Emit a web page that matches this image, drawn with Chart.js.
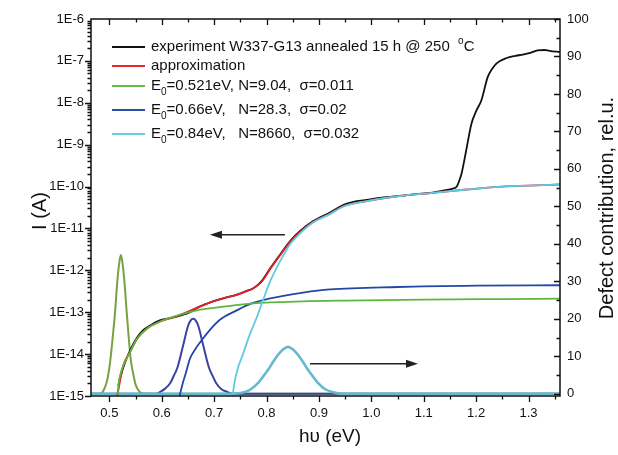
<!DOCTYPE html>
<html>
<head>
<meta charset="utf-8">
<script src="https://cdn.jsdelivr.net/npm/chart.js@4.4.0/dist/chart.umd.min.js"></script>
<style>
  html, body { margin: 0; padding: 0; background: #fff; }
  #wrap { width: 618px; height: 455px; }
</style>
</head>
<body>
<div id="wrap"><canvas id="chart" width="618" height="455"></canvas></div>
<script>
const FONT = '"Liberation Sans", Arial, sans-serif';

// axis ticks
const xTicks = [0.5, 0.6, 0.7, 0.8, 0.9, 1.0, 1.1, 1.2, 1.3];
const yLeftTicks = [1e-15, 1e-14, 1e-13, 1e-12, 1e-11, 1e-10, 1e-9, 1e-8, 1e-7, 1e-6];
const yRightTicks = [0, 10, 20, 30, 40, 50, 60, 70, 80, 90, 100];

// experiment W337-G13 (photon energy, eV / current, A)
const expE = [0.517, 0.522, 0.530, 0.540, 0.553, 0.565, 0.578, 0.591, 0.605, 0.620, 0.635, 0.645, 0.654, 0.670, 0.685, 0.698,
  0.720, 0.744, 0.760, 0.774, 0.785, 0.793, 0.807, 0.826, 0.845, 0.864, 0.889, 0.921, 0.946, 0.970, 0.991, 1.020,
  1.054, 1.085, 1.117, 1.140, 1.155, 1.163, 1.168, 1.172, 1.177, 1.182, 1.191, 1.200, 1.210, 1.222, 1.230, 1.239,
  1.258, 1.275, 1.289, 1.305, 1.317, 1.330, 1.340, 1.360];
const expI = [1.78e-15, 3.16e-15, 6.3e-15, 1.26e-14, 2.5e-14, 3.8e-14, 4.8e-14, 6.0e-14, 6.8e-14, 7.4e-14, 8.3e-14, 9.1e-14, 1.0e-13, 1.32e-13, 1.58e-13, 1.82e-13,
  2.19e-13, 2.63e-13, 3.16e-13, 3.7e-13, 4.7e-13, 6.0e-13, 1.12e-12, 2.4e-12, 5.0e-12, 8.7e-12, 1.51e-11, 2.4e-11, 3.6e-11, 4.4e-11, 4.8e-11, 5.4e-11,
  6.0e-11, 6.6e-11, 7.2e-11, 8.1e-11, 8.9e-11, 1.0e-10, 1.41e-10, 2.0e-10, 4.0e-10, 8.5e-10, 3.16e-9, 6.3e-9, 1.15e-8, 4.1e-8, 6.3e-8, 8.7e-8,
  1.17e-7, 1.32e-7, 1.41e-7, 1.58e-7, 1.78e-7, 1.82e-7, 1.74e-7, 1.62e-7];

// approximation
const apxE = [0.515, 0.527, 0.540, 0.553, 0.572, 0.597, 0.620, 0.641, 0.660, 0.680, 0.698, 0.720, 0.744, 0.760, 0.774, 0.785,
  0.793, 0.807, 0.826, 0.845, 0.864, 0.889, 0.921, 0.946, 0.991, 1.054, 1.117, 1.182, 1.250, 1.300, 1.360];
const apxI = [1.0e-15, 5.5e-15, 1.15e-14, 2.34e-14, 4.1e-14, 6.0e-14, 7.4e-14, 9.3e-14, 1.17e-13, 1.48e-13, 1.82e-13, 2.19e-13, 2.63e-13, 3.1e-13, 3.7e-13, 4.6e-13,
  5.8e-13, 1.07e-12, 2.3e-12, 4.8e-12, 8.3e-12, 1.45e-11, 2.24e-11, 3.4e-11, 4.5e-11, 5.9e-11, 7.1e-11, 8.5e-11, 1.0e-10, 1.05e-10, 1.12e-10];

// level E0 = 0.521 eV
const g1E = [0.515, 0.519, 0.523, 0.527, 0.533, 0.540, 0.553, 0.572, 0.597, 0.635, 0.673, 0.711, 0.774, 0.870, 0.950, 1.100, 1.250, 1.360];
const g1I = [1.0e-15, 2.5e-15, 4.0e-15, 5.5e-15, 7.9e-15, 1.15e-14, 2.34e-14, 4.1e-14, 6.0e-14, 8.7e-14, 1.15e-13, 1.32e-13, 1.62e-13, 1.82e-13, 1.9e-13, 2.0e-13, 2.06e-13, 2.1e-13];
const g1ContE = [0.465, 0.483, 0.490, 0.496, 0.501, 0.506, 0.511, 0.515, 0.519, 0.522, 0.525, 0.529, 0.533, 0.537, 0.541, 0.546, 0.550, 0.555, 0.565, 1.360];
const g1Cont = [0, 0, 1.2, 3.7, 8, 14.4, 22, 29.6, 35, 37, 35, 29.6, 22, 15, 9, 5, 2.5, 1, 0, 0];

// level E0 = 0.66 eV
const b1E = [0.634, 0.640, 0.645, 0.654, 0.663, 0.673, 0.692, 0.711, 0.744, 0.769, 0.807, 0.870, 0.921, 1.050, 1.200, 1.360];
const b1I = [1.0e-15, 2.0e-15, 3.2e-15, 7.9e-15, 1.26e-14, 1.9e-14, 3.8e-14, 6.6e-14, 1.12e-13, 1.58e-13, 2.14e-13, 2.95e-13, 3.5e-13, 4.0e-13, 4.3e-13, 4.4e-13];
const b1ContE = [0.465, 0.590, 0.597, 0.606, 0.616, 0.623, 0.630, 0.641, 0.650, 0.655, 0.660, 0.665, 0.670, 0.679, 0.690, 0.697, 0.704, 0.714, 0.725, 0.735, 1.360];
const b1Cont = [0, 0, 0.5, 1.3, 2.8, 4.8, 7.0, 13.0, 18, 19.5, 20, 19.5, 18, 13.0, 7.0, 4.8, 2.8, 1.2, 0.5, 0, 0];

// level E0 = 0.84 eV
const c1E = [0.735, 0.740, 0.745, 0.755, 0.769, 0.782, 0.793, 0.807, 0.826, 0.845, 0.864, 0.889, 0.921, 0.946, 0.991, 1.054, 1.117, 1.182, 1.250, 1.300, 1.360];
const c1I = [1.0e-15, 2.5e-15, 4.5e-15, 1.0e-14, 3.16e-14, 7.9e-14, 1.9e-13, 5.5e-13, 1.66e-12, 4.2e-12, 7.6e-12, 1.38e-11, 2.2e-11, 3.3e-11, 4.5e-11, 5.9e-11, 7.1e-11, 8.5e-11, 1.0e-10, 1.05e-10, 1.12e-10];
const c1ContE = [0.465, 0.735, 0.750, 0.759, 0.770, 0.784, 0.795, 0.803, 0.813, 0.822, 0.832, 0.841, 0.850, 0.860, 0.869, 0.879, 0.887, 0.898, 0.912, 0.925, 0.945, 1.360];
const c1Cont = [0, 0, 0.2, 0.5, 1.2, 2.9, 4.9, 6.4, 8.6, 10.4, 11.9, 12.5, 11.9, 10.4, 8.6, 6.4, 4.9, 2.9, 1.2, 0.5, 0, 0];

const legendLabels = [
  [{ t: 'experiment W337-G13 annealed 15 h @ 250  ' }, { t: 'o', sup: true }, { t: 'C' }],
  [{ t: 'approximation' }],
  [{ t: 'E' }, { t: '0', sub: true }, { t: '=0.521eV, N=9.04,  \u03c3=0.011' }],
  [{ t: 'E' }, { t: '0', sub: true }, { t: '=0.66eV,   N=28.3,  \u03c3=0.02' }],
  [{ t: 'E' }, { t: '0', sub: true }, { t: '=0.84eV,   N=8660,  \u03c3=0.032' }]
];
const legendColors = ['#111111', '#e8262b', '#66bb44', '#2a4ea6', '#6dcde0'];
const legendY = [47, 66, 86, 110, 134];

// direction arrows: which axis each curve family belongs to
const arrows = [
  { axis: 'y', from: 0.835, to: 0.692, level: 7.1e-12 },
  { axis: 'y2', from: 0.883, to: 1.089, level: 8 }
];

const line = (label, xs, ys, color, axis, order, width) => ({
  label,
  data: xs.map((x, i) => ({ x: x, y: ys[i] })),
  borderColor: color,
  backgroundColor: color,
  borderWidth: width || 1.8,
  yAxisID: axis,
  order: order,
  pointRadius: 0,
  fill: false,
  cubicInterpolationMode: 'monotone'
});

const decoration = {
  id: 'decoration',
  afterDraw(chart) {
    const ctx = chart.ctx;
    const a = chart.chartArea;
    const sx = chart.scales.x, sy = chart.scales.y, sr = chart.scales.y2;
    ctx.save();
    ctx.strokeStyle = '#111';
    ctx.lineWidth = 1.3;
    ctx.beginPath();
    // bottom (out) and top (in) ticks
    for (let v = 0.5; v <= 1.36; v += 0.05) {
      const major = Math.abs(v * 10 - Math.round(v * 10)) < 1e-6;
      const px = Math.round(sx.getPixelForValue(v)) + 0.5;
      const len = major ? 6 : 3.5;
      ctx.moveTo(px, a.bottom); ctx.lineTo(px, a.bottom + len);
      ctx.moveTo(px, a.top); ctx.lineTo(px, a.top + len);
    }
    // left log ticks (out)
    for (let e = -15; e < -6; e++) {
      for (let k = 1; k <= 9; k++) {
        const py = Math.round(sy.getPixelForValue(k * Math.pow(10, e))) + 0.5;
        const len = k === 1 ? 6 : 3.5;
        ctx.moveTo(a.left, py); ctx.lineTo(a.left - len, py);
      }
    }
    // right linear ticks (in)
    for (let v = 0; v <= 100; v += 5) {
      const py = Math.round(sr.getPixelForValue(v)) + 0.5;
      const len = v % 10 === 0 ? 6 : 3.5;
      ctx.moveTo(a.right, py); ctx.lineTo(a.right - len, py);
    }
    ctx.stroke();
    ctx.lineWidth = 1.5;
    ctx.strokeRect(a.left, a.top, a.right - a.left, a.bottom - a.top);

    // arrows
    ctx.strokeStyle = '#222';
    ctx.fillStyle = '#222';
    arrows.forEach(ar => {
      const s = chart.scales[ar.axis];
      const y = s.getPixelForValue(ar.level);
      const x0 = sx.getPixelForValue(ar.from), x1 = sx.getPixelForValue(ar.to);
      const dir = Math.sign(x1 - x0);
      ctx.lineWidth = 1.4;
      ctx.beginPath(); ctx.moveTo(x0, y); ctx.lineTo(x1 - dir * 8, y); ctx.stroke();
      ctx.beginPath();
      ctx.moveTo(x1, y); ctx.lineTo(x1 - dir * 12, y - 4); ctx.lineTo(x1 - dir * 12, y + 4);
      ctx.closePath(); ctx.fill();
    });

    // legend
    ctx.textBaseline = 'middle';
    ctx.fillStyle = '#111';
    legendLabels.forEach((parts, i) => {
      const y = legendY[i];
      ctx.strokeStyle = legendColors[i];
      ctx.lineWidth = 1.8;
      ctx.beginPath(); ctx.moveTo(112, y); ctx.lineTo(145, y); ctx.stroke();
      let x = 151;
      parts.forEach(p => {
        const small = p.sub || p.sup;
        ctx.font = (small ? '10px ' : '15px ') + FONT;
        ctx.fillText(p.t, x, y + (p.sub ? 6 : p.sup ? -6 : 0));
        x += ctx.measureText(p.t).width;
      });
    });

    // axis titles
    ctx.fillStyle = '#111';
    ctx.textAlign = 'center';
    ctx.font = '19px ' + FONT;
    ctx.fillText('h\u03c5 (eV)', 330, 437);
    ctx.font = '20px ' + FONT;
    ctx.save();
    ctx.translate(40, 211);
    ctx.rotate(-Math.PI / 2);
    ctx.fillText('I (A)', 0, 0);
    ctx.restore();
    ctx.save();
    ctx.translate(607, 208);
    ctx.rotate(-Math.PI / 2);
    ctx.fillText('Defect contribution, rel.u.', 0, 0);
    ctx.restore();
    ctx.restore();
  }
};

new Chart(document.getElementById('chart'), {
  type: 'line',
  data: {
    datasets: [
      line('E0=0.84eV log', c1E, c1I, '#5ccbe0', 'y', 0),
      line('E0=0.521eV log', g1E, g1I, '#5cb83c', 'y', 1),
      line('E0=0.66eV log', b1E, b1I, '#2447a8', 'y', 2),
      line('approximation', apxE, apxI, '#e5202a', 'y', 3),
      line('experiment', expE, expI, '#111111', 'y', 4),
      line('E0=0.84eV', c1ContE, c1Cont, '#66b8d0', 'y2', 5, 2.6),
      line('E0=0.66eV', b1ContE, b1Cont, '#3a44a0', 'y2', 6, 2),
      line('E0=0.521eV', g1ContE, g1Cont, '#78a242', 'y2', 7, 2)
    ]
  },
  options: {
    responsive: false,
    animation: false,
    layout: { padding: { top: 19, left: 0, right: 0, bottom: 0 } },
    plugins: { legend: { display: false }, tooltip: { enabled: false } },
    scales: {
      x: {
        type: 'linear', position: 'bottom', min: 0.465, max: 1.36,
        grid: { display: false, drawTicks: false }, border: { display: false },
        afterBuildTicks: s => { s.ticks = xTicks.map(v => ({ value: v })); },
        afterFit: s => { s.height = 59; },
        ticks: {
          autoSkip: false, maxRotation: 0, padding: 10, color: '#111',
          font: { family: FONT, size: 13 },
          callback: v => Number(v).toFixed(1)
        }
      },
      y: {
        type: 'logarithmic', position: 'left', min: 1e-15, max: 1e-6,
        grid: { display: false, drawTicks: false }, border: { display: false },
        afterBuildTicks: s => { s.ticks = yLeftTicks.map(v => ({ value: v })); },
        afterFit: s => { s.width = 91; },
        ticks: {
          autoSkip: false, padding: 7, color: '#111',
          font: { family: FONT, size: 13 },
          callback: v => '1E' + Math.round(Math.log10(v))
        }
      },
      y2: {
        type: 'linear', position: 'right', min: -0.6, max: 100,
        grid: { display: false, drawTicks: false }, border: { display: false },
        afterBuildTicks: s => { s.ticks = yRightTicks.map(v => ({ value: v })); },
        afterFit: s => { s.width = 58; },
        ticks: {
          autoSkip: false, padding: 7, color: '#111',
          font: { family: FONT, size: 13 },
          callback: v => String(v)
        }
      }
    }
  },
  plugins: [decoration]
});
</script>
</body>
</html>
